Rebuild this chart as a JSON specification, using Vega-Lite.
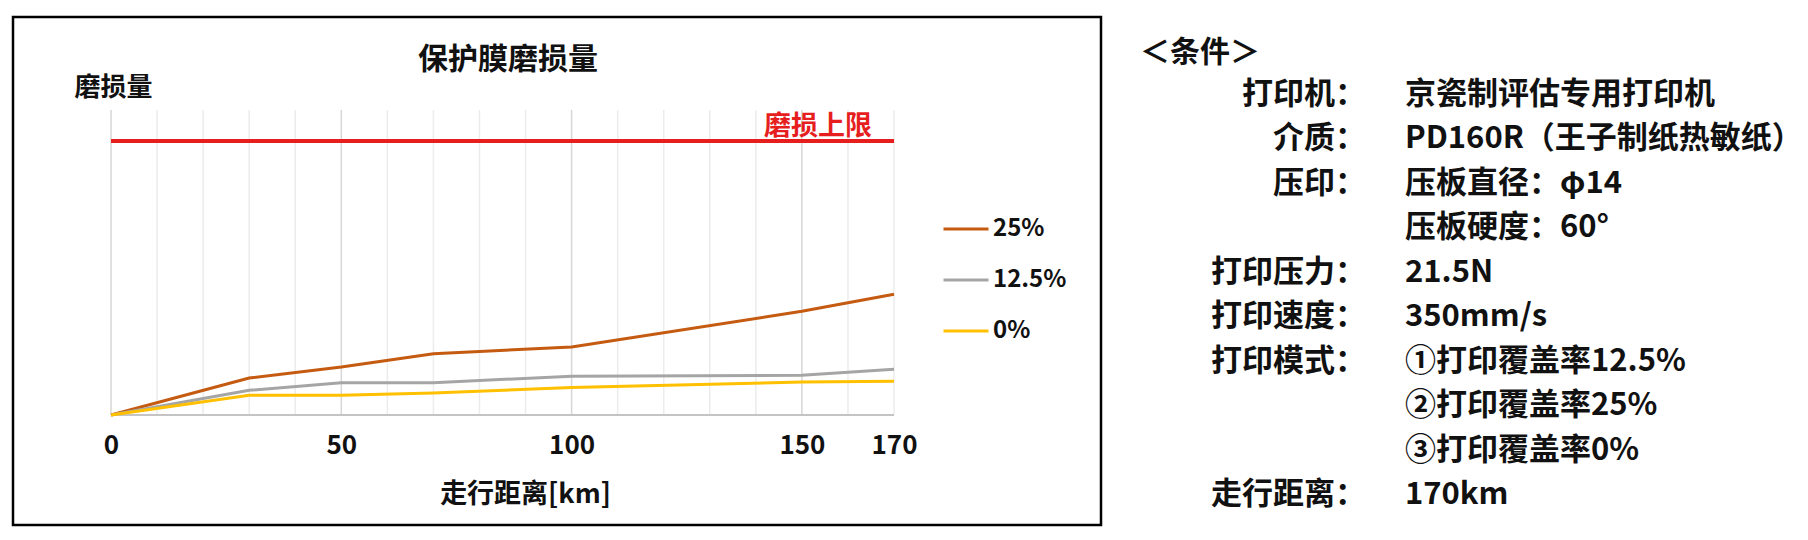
{
  "$schema": "https://vega.github.io/schema/vega-lite/v6.json",
  "background": "white",
  "padding": {"left": 11, "top": 15, "right": 0, "bottom": 0},
  "spacing": 37,
  "config": {
    "font": "Noto Sans CJK SC",
    "view": {"stroke": null},
    "text": {"font": "Noto Sans CJK SC", "fontWeight": "bold", "color": "#111111"},
    "title": {"font": "Noto Sans CJK SC", "fontWeight": "bold", "color": "#111111"},
    "axis": {"labelFont": "Noto Sans CJK SC", "titleFont": "Noto Sans CJK SC", "labelFontWeight": "bold", "titleFontWeight": "bold", "labelColor": "#111111", "titleColor": "#111111"},
    "legend": {"labelFont": "Noto Sans CJK SC", "labelFontWeight": "bold", "labelColor": "#111111"}
  },
  "datasets": {
    "wear": [
      {"km": 0, "series": "25%", "wear": 0},
      {"km": 30, "series": "25%", "wear": 12.1},
      {"km": 50, "series": "25%", "wear": 15.7},
      {"km": 70, "series": "25%", "wear": 20.1},
      {"km": 100, "series": "25%", "wear": 22.3},
      {"km": 150, "series": "25%", "wear": 34.0},
      {"km": 170, "series": "25%", "wear": 39.6},
      {"km": 0, "series": "12.5%", "wear": 0},
      {"km": 30, "series": "12.5%", "wear": 8.1},
      {"km": 50, "series": "12.5%", "wear": 10.6},
      {"km": 70, "series": "12.5%", "wear": 10.6},
      {"km": 100, "series": "12.5%", "wear": 12.7},
      {"km": 150, "series": "12.5%", "wear": 13.0},
      {"km": 170, "series": "12.5%", "wear": 15.0},
      {"km": 0, "series": "0%", "wear": 0},
      {"km": 30, "series": "0%", "wear": 6.5},
      {"km": 50, "series": "0%", "wear": 6.5},
      {"km": 70, "series": "0%", "wear": 7.2},
      {"km": 100, "series": "0%", "wear": 9.0},
      {"km": 150, "series": "0%", "wear": 10.8},
      {"km": 170, "series": "0%", "wear": 11.1}
    ],
    "grid": [
      {"km": 0, "major": true}, {"km": 10, "major": false}, {"km": 20, "major": false},
      {"km": 30, "major": false}, {"km": 40, "major": false}, {"km": 50, "major": true},
      {"km": 60, "major": false}, {"km": 70, "major": false}, {"km": 80, "major": false},
      {"km": 90, "major": false}, {"km": 100, "major": true}, {"km": 110, "major": false},
      {"km": 120, "major": false}, {"km": 130, "major": false}, {"km": 140, "major": false},
      {"km": 150, "major": true}, {"km": 160, "major": false}, {"km": 170, "major": false}
    ],
    "limit": [{"limit": 89.8, "label": "磨损上限"}],
    "conditions": [
      {"row": 1, "label": "打印机：", "value": "京瓷制评估专用打印机"},
      {"row": 2, "label": "介质：", "value": "PD160R（王子制纸热敏纸）"},
      {"row": 3, "label": "压印：", "value": "压板直径：φ14"},
      {"row": 4, "label": "", "value": "压板硬度：60°"},
      {"row": 5, "label": "打印压力：", "value": "21.5N"},
      {"row": 6, "label": "打印速度：", "value": "350mm/s"},
      {"row": 7, "label": "打印模式：", "value": "①打印覆盖率12.5%"},
      {"row": 8, "label": "", "value": "②打印覆盖率25%"},
      {"row": 9, "label": "", "value": "③打印覆盖率0%"},
      {"row": 10, "label": "走行距离：", "value": "170km"}
    ]
  },
  "hconcat": [
    {
      "width": 1088,
      "height": 508,
      "view": {"stroke": "#000000", "strokeWidth": 2.5},
      "title": {"text": "保护膜磨损量", "fontSize": 30, "anchor": "middle", "dx": -49, "offset": -73, "baseline": "middle"},
      "layer": [
        {
          "data": {"name": "grid"},
          "mark": {"type": "rule", "strokeWidth": 1.5},
          "encoding": {
            "x": {
              "field": "km", "type": "quantitative",
              "scale": {"domain": [-21.28, 214.94], "nice": false, "zero": false},
              "axis": {
                "values": [0, 50, 100, 150, 170], "offset": -110, "domain": false, "ticks": false, "tickSize": 0, "grid": false,
                "labelFontSize": 26, "labelPadding": 17, "labelFlush": false,
                "title": "走行距离[km]", "titleFontSize": 27, "titleX": 512, "titleY": 79, "titleBaseline": "middle", "titleAlign": "center"
              }
            },
            "y": {
              "datum": 0, "type": "quantitative",
              "scale": {"domain": [-36.07, 130.49], "nice": false, "zero": false},
              "axis": {
                "labels": false, "ticks": false, "domain": false, "grid": false,
                "title": "磨损量", "titleFontSize": 26, "titleAngle": 0, "titleAlign": "left", "titleBaseline": "middle", "titleX": 61, "titleY": 70
              }
            },
            "y2": {"datum": 100},
            "color": {"condition": {"test": "datum.major", "value": "#d6d6d6"}, "value": "#ececec"}
          }
        },
        {
          "data": {"name": "limit"},
          "mark": {"type": "rule", "color": "#c4c4c4", "strokeWidth": 2},
          "encoding": {
            "x": {"datum": 0, "type": "quantitative"},
            "x2": {"datum": 170},
            "y": {"datum": 0, "type": "quantitative"}
          }
        },
        {
          "data": {"name": "wear"},
          "mark": {"type": "line", "strokeWidth": 3},
          "encoding": {
            "x": {"field": "km", "type": "quantitative"},
            "y": {"field": "wear", "type": "quantitative"},
            "color": {
              "field": "series", "type": "nominal",
              "scale": {"domain": ["25%", "12.5%", "0%"], "range": ["#c55a11", "#a5a5a5", "#ffc000"]},
              "legend": {
                "title": null, "orient": "none", "legendX": 929, "legendY": 188,
                "symbolType": "stroke", "symbolSize": 2025, "symbolStrokeWidth": 3,
                "labelFontSize": 24, "labelOffset": 3, "rowPadding": 15
              }
            }
          }
        },
        {
          "data": {"name": "limit"},
          "mark": {"type": "rule", "color": "#e61e1e", "strokeWidth": 4},
          "encoding": {
            "x": {"datum": 0, "type": "quantitative"},
            "x2": {"datum": 170},
            "y": {"field": "limit", "type": "quantitative"}
          }
        },
        {
          "data": {"name": "limit"},
          "mark": {"type": "text", "align": "right", "baseline": "middle", "dx": -22, "dy": -14, "fontSize": 27, "color": "#e61e1e"},
          "encoding": {
            "x": {"datum": 170, "type": "quantitative"},
            "y": {"field": "limit", "type": "quantitative"},
            "text": {"field": "label"}
          }
        }
      ]
    },
    {
      "data": {"name": "conditions"},
      "width": 39,
      "height": 508,
      "title": {"text": "＜条件＞", "fontSize": 30, "anchor": "start", "frame": "group", "dx": -226, "offset": -66, "baseline": "middle"},
      "layer": [
        {
          "mark": {"type": "text", "align": "right", "baseline": "middle", "fontSize": 31},
          "encoding": {
            "x": {"datum": "k", "type": "nominal", "scale": {"type": "point", "domain": ["k", "v"], "padding": 0}, "axis": null},
            "y": {"field": "row", "type": "ordinal", "scale": {"type": "point", "range": [78, 478], "padding": 0}, "axis": null},
            "text": {"field": "label"}
          }
        },
        {
          "mark": {"type": "text", "align": "left", "baseline": "middle", "fontSize": 31},
          "encoding": {
            "x": {"datum": "v", "type": "nominal"},
            "y": {"field": "row", "type": "ordinal"},
            "text": {"field": "value"}
          }
        }
      ]
    }
  ]
}
